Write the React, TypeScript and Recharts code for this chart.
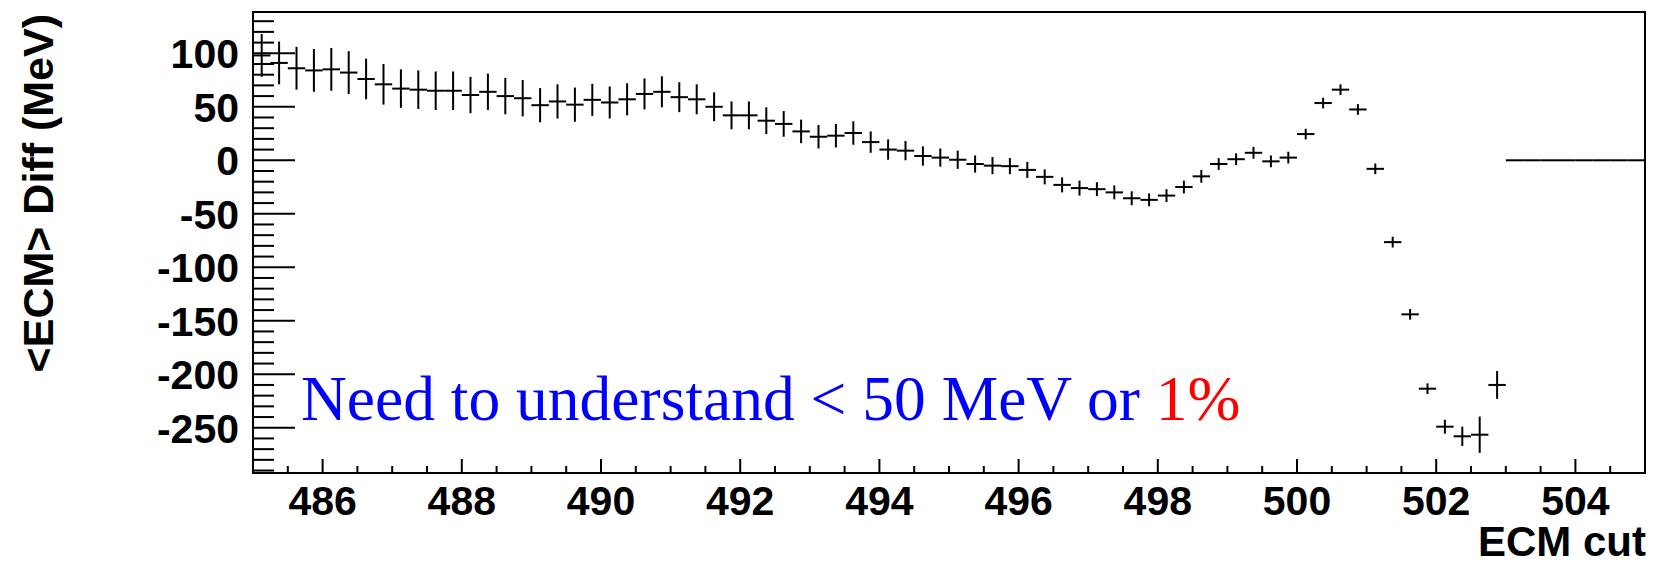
import React from "react";
import { ComposedChart, Scatter, ErrorBar, XAxis, YAxis, ReferenceArea } from "recharts";

document.body.style.margin = "0";

// histogram binning of the ECM cut scan
const BIN_START = 485;
const BIN_WIDTH = 0.25;

// <ECM> difference (MeV) per bin, 485.00 .. 503.00
const diffValues = [
  98, 91, 86, 84, 85, 82, 76, 71, 67, 66, 65, 65, 61, 64, 60, 58,
  51.5, 55, 52, 56.5, 54, 57, 62, 64, 59, 57, 50, 42, 42, 37, 34, 27,
  22, 23, 25.5, 17, 10, 9, 4, 2.5, 0.5, -3.5, -5, -5.5, -9, -15.5, -23, -26,
  -27, -30, -35.5, -37, -33, -25, -15, -3.5, 1, 7, -1, 2.5, 24.5, 53.5,
  66, 47.5, -8, -76.5, -144, -213.5, -249, -258, -256.5, -210,
];

// statistical error on each bin
const diffErrors = [
  20, 20, 20, 20, 20, 20, 19, 19, 18, 18, 18, 18, 17, 17, 17, 17,
  16, 16, 16, 15, 15, 15, 14.5, 14.5, 14, 14, 13.5, 13, 13, 12.5, 12, 11,
  11, 11, 11, 10, 9.5, 9, 9, 8.5, 8.5, 8, 8, 7.5, 7.5, 7, 7, 7,
  6.5, 6.5, 6.5, 6, 6, 6, 6, 5.5, 5.5, 5.5, 5.5, 5.5, 5, 5,
  5, 5, 5, 5, 5, 5, 6.5, 9, 17, 13,
];

// bins above 503 are empty and drawn flat at zero
const EMPTY_BINS = 8;

const X_DOMAIN = [485, 505];
const Y_DOMAIN = [-292.3, 138.6];

const xMajorTicks = [486, 488, 490, 492, 494, 496, 498, 500, 502, 504];
const yMajorTicks = [-250, -200, -150, -100, -50, 0, 50, 100];
const X_MINOR_STEP = 0.5;
const Y_MINOR_STEP = 10;

const points = [
  ...diffValues.map((y, i) => ({
    x: BIN_START + BIN_WIDTH * (i + 0.5),
    y,
    ex: BIN_WIDTH / 2,
    ey: diffErrors[i],
  })),
  ...Array.from({ length: EMPTY_BINS }, (_, k) => ({
    x: BIN_START + BIN_WIDTH * (diffValues.length + k + 0.5),
    y: 0,
    ex: BIN_WIDTH / 2,
    ey: 0,
  })),
];

const xTicks: number[] = [];
for (let k = 1; X_DOMAIN[0] + k * X_MINOR_STEP < X_DOMAIN[1]; k++) {
  xTicks.push(X_DOMAIN[0] + k * X_MINOR_STEP);
}
const yTicks: number[] = [];
for (let v = -290; v < Y_DOMAIN[1]; v += Y_MINOR_STEP) {
  yTicks.push(v);
}

const sansBold = {
  fontFamily: "'Liberation Sans', Arial, Helvetica, sans-serif",
  fontWeight: 700,
};

function XTick(props: any) {
  const { x, y, payload } = props;
  const major = xMajorTicks.includes(payload.value);
  return (
    <g>
      <line x1={x} x2={x} y1={y} y2={y - (major ? 14 : 7)} stroke="#000" strokeWidth={2} />
      {major && (
        <text x={x} y={y + 42} textAnchor="middle" fill="#000" style={{ ...sansBold, fontSize: 41 }}>
          {payload.value}
        </text>
      )}
    </g>
  );
}

function YTick(props: any) {
  const { x, y, payload } = props;
  const major = yMajorTicks.includes(payload.value);
  return (
    <g>
      <line x1={x} x2={x + (major ? 42 : 21)} y1={y} y2={y} stroke="#000" strokeWidth={2} />
      {major && (
        <text x={x - 14} y={y + 15} textAnchor="end" fill="#000" style={{ ...sansBold, fontSize: 41 }}>
          {payload.value}
        </text>
      )}
    </g>
  );
}

export default function App() {
  return (
    <div style={{ position: "relative", width: 1657, height: 566, background: "#fff" }}>
      <ComposedChart
        width={1657}
        height={566}
        data={points}
        margin={{ top: 12, right: 12, bottom: 0, left: 0 }}
      >
        <XAxis
          type="number"
          dataKey="x"
          domain={X_DOMAIN}
          ticks={xTicks}
          interval={0}
          tickSize={0}
          tickMargin={0}
          axisLine={false}
          tick={<XTick />}
          height={93}
          allowDataOverflow
        />
        <YAxis
          type="number"
          dataKey="y"
          domain={Y_DOMAIN}
          ticks={yTicks}
          interval={0}
          tickSize={0}
          tickMargin={0}
          axisLine={false}
          tick={<YTick />}
          width={253}
          allowDataOverflow
        />
        <ReferenceArea
          x1={X_DOMAIN[0]}
          x2={X_DOMAIN[1]}
          y1={Y_DOMAIN[0]}
          y2={Y_DOMAIN[1]}
          fill="none"
          fillOpacity={0}
          stroke="#000"
          strokeWidth={2}
        />
        <Scatter data={points} dataKey="y" shape={() => <g />} isAnimationActive={false}>
          <ErrorBar dataKey="ey" direction="y" width={0} stroke="#000" strokeWidth={2} isAnimationActive={false} />
          <ErrorBar dataKey="ex" direction="x" width={0} stroke="#000" strokeWidth={2} isAnimationActive={false} />
        </Scatter>
      </ComposedChart>
      <svg
        width={1657}
        height={566}
        style={{ position: "absolute", left: 0, top: 0, pointerEvents: "none" }}
      >
        <text
          transform="translate(53,14) rotate(-90)"
          textAnchor="end"
          fill="#000"
          style={{ ...sansBold, fontSize: 43 }}
        >
          {"<ECM> Diff (MeV)"}
        </text>
        <text x={1646} y={556} textAnchor="end" fill="#000" style={{ ...sansBold, fontSize: 42 }}>
          ECM cut
        </text>
        <text
          x={301}
          y={420}
          fill="#0000ff"
          style={{ fontFamily: "'Liberation Serif', 'Times New Roman', Times, serif", fontSize: 63.5 }}
        >
          {"Need to understand < 50 MeV or "}
          <tspan fill="#ff0000">1%</tspan>
        </text>
      </svg>
    </div>
  );
}
